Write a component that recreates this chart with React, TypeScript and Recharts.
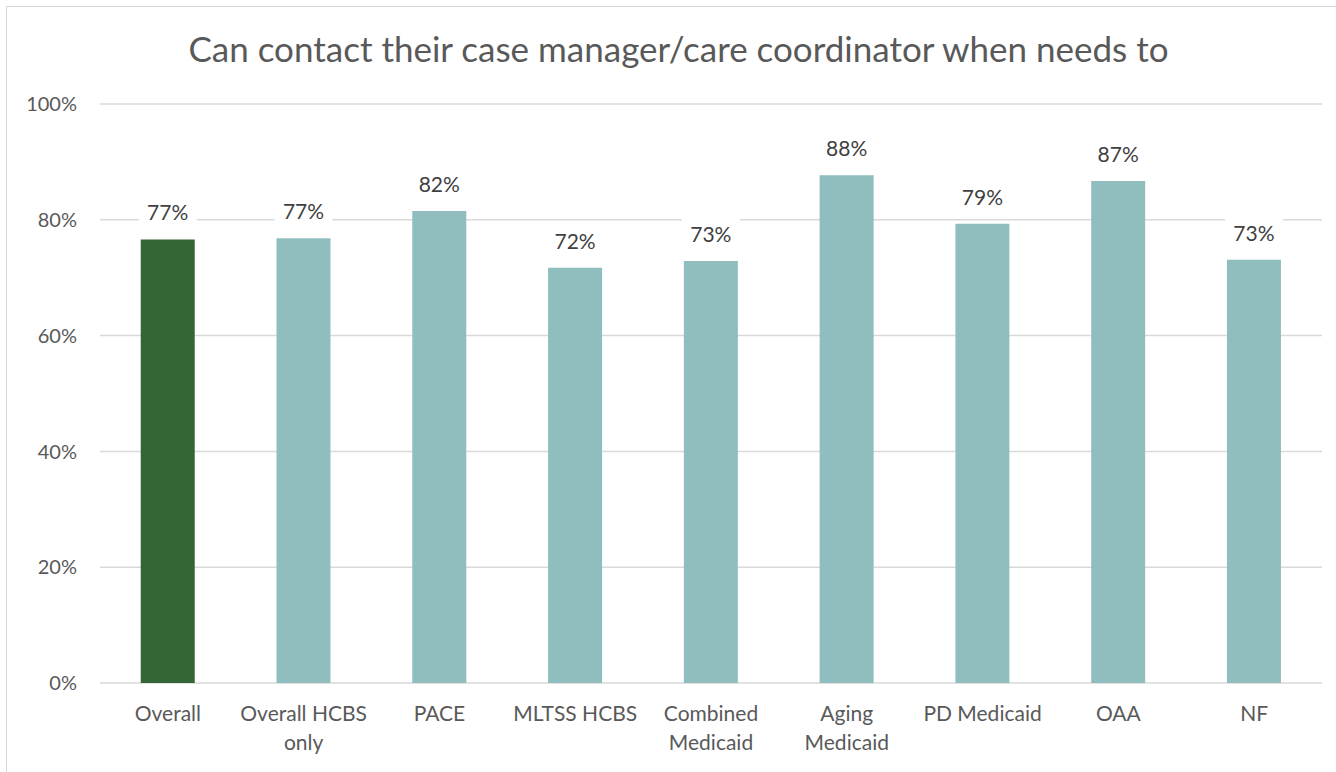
import { BarChart, Bar, XAxis, YAxis, CartesianGrid, Cell, LabelList } from "recharts";

const categories = [
  "Overall",
  "Overall HCBS only",
  "PACE",
  "MLTSS HCBS",
  "Combined Medicaid",
  "Aging Medicaid",
  "PD Medicaid",
  "OAA",
  "NF",
];
const tickLines = [
  ["Overall"],
  ["Overall HCBS", "only"],
  ["PACE"],
  ["MLTSS HCBS"],
  ["Combined", "Medicaid"],
  ["Aging", "Medicaid"],
  ["PD Medicaid"],
  ["OAA"],
  ["NF"],
];
const values = [76.6, 76.8, 81.5, 71.7, 72.9, 87.7, 79.3, 86.7, 73.1];
const yTicks = [0, 20, 40, 60, 80, 100];

const font = "Lato, 'Open Sans', sans-serif";
const green = "#336634";
const teal = "#90BEBE";

const data = categories.map((name, i) => ({ name, value: values[i], idx: i }));

function CategoryTick(props: any) {
  const { x, y, payload } = props;
  const lines = tickLines[payload.index] || [payload.value];
  return (
    <text x={x} y={y} textAnchor="middle" fill="#595959" fontSize={21} fontFamily={font}>
      {lines.map((l: string, i: number) => (
        <tspan key={i} x={x} dy={i === 0 ? 30 : 29}>
          {l}
        </tspan>
      ))}
    </text>
  );
}

function ValueLabel(props: any) {
  const { x, y, width, value } = props;
  const cx = x + width / 2;
  return (
    <g>
      <rect x={cx - 29} y={y - 42} width={58} height={31} fill="#fff" />
      <text x={cx} y={y - 19} textAnchor="middle" fill="#404040" fontSize={21} fontFamily={font}>
        {Math.round(value)}%
      </text>
    </g>
  );
}

export default function App() {
  return (
    <div style={{ position: "absolute", left: 0, top: 0, width: 1336, height: 772, overflow: "hidden", background: "#fff" }}>
      <div
        style={{
          position: "absolute",
          left: 6,
          top: 6,
          width: 1400,
          height: 800,
          border: "1.5px solid #d9d9d9",
        }}
      />
      <div
        style={{
          position: "absolute",
          left: 0,
          width: 1357,
          top: 27,
          textAlign: "center",
          fontFamily: font,
          fontSize: 35,
          color: "#595959",
          whiteSpace: "nowrap",
        }}
      >
        Can contact their case manager/care coordinator when needs to
      </div>
      <div style={{ position: "absolute", left: 0, top: 0 }}>
        <BarChart
          width={1336}
          height={772}
          data={data}
          margin={{ top: 104, right: 14, bottom: 29, left: 0 }}
          barCategoryGap="30%"
        >
          <CartesianGrid vertical={false} stroke="#d9d9d9" strokeWidth={1.5} />
          <XAxis
            dataKey="name"
            height={60}
            axisLine={false}
            tickLine={false}
            interval={0}
            tick={<CategoryTick />}
          />
          <YAxis
            width={100}
            domain={[0, 100]}
            ticks={yTicks}
            axisLine={false}
            tickLine={false}
            tickMargin={17}
            tickFormatter={(v: number) => `${v}%`}
            tick={{ fill: "#595959", fontSize: 20, fontFamily: font }}
          />
          <Bar dataKey="value" isAnimationActive={false}>
            {data.map((d) => (
              <Cell key={d.name} fill={d.idx === 0 ? green : teal} />
            ))}
            <LabelList dataKey="value" content={<ValueLabel />} />
          </Bar>
        </BarChart>
      </div>
    </div>
  );
}
